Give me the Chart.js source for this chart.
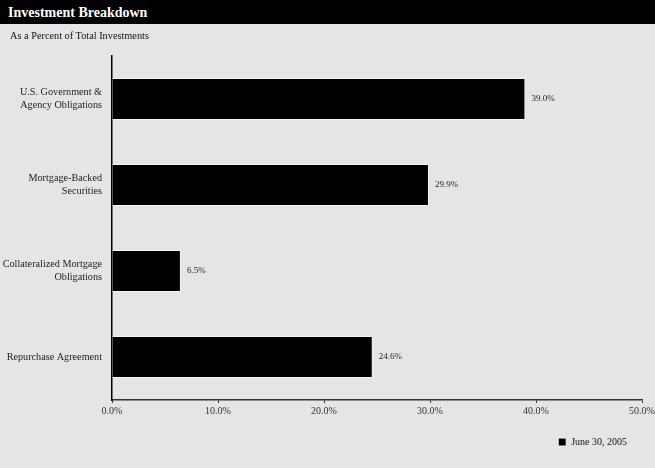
<!DOCTYPE html>
<html>
<head>
<meta charset="utf-8">
<script src="https://cdn.jsdelivr.net/npm/chart.js@4"></script>
<style>
  html, body { margin: 0; padding: 0; background: #e5e5e5; }
  #wrap { position: relative; width: 655px; height: 468px; overflow: hidden; }
  #bar { position: absolute; left: 0; top: 0; width: 655px; height: 24px; background: #000; color: #fff;
         font: bold 14px "Liberation Serif", "Times New Roman", serif; line-height: 26px; padding-left: 8px; box-sizing: border-box; }
  #sub { position: absolute; left: 10px; top: 30px; font: 10.3px "Liberation Serif", serif; color: #111; }
  canvas { position: absolute; left: 0; top: 0; }
</style>
</head>
<body>
<div id="wrap">
  <canvas id="chart1" width="655" height="468"></canvas>
  <div id="bar">Investment Breakdown</div>
  <div id="sub">As a Percent of Total Investments</div>
</div>
<script>
var categories = [
    ['U.S. Government &', 'Agency Obligations'],
    ['Mortgage-Backed', 'Securities'],
    ['Collateralized Mortgage', 'Obligations'],
    'Repurchase Agreement'
];
var values = [39.0, 29.9, 6.5, 24.6];
var seriesName = 'June 30, 2005';
var tickValues = [0, 10, 20, 30, 40, 50];

var serif = '"Liberation Serif", "Times New Roman", serif';

// value labels at the end of each bar
var barLabels = {
    id: 'barLabels',
    afterDatasetsDraw: function(chart) {
        var c = chart.ctx;
        var meta = chart.getDatasetMeta(0);
        c.save();
        c.font = '9px ' + serif;
        c.fillStyle = '#222';
        c.textBaseline = 'middle';
        meta.data.forEach(function(bar, i) {
            c.fillText(values[i].toFixed(1) + '%', bar.x + 6, bar.y);
        });
        c.restore();
    }
};

var ctx = document.getElementById('chart1').getContext('2d');
var myChart = new Chart(ctx, {
    type: 'bar',
    data: {
        labels: categories,
        datasets: [{
            label: seriesName,
            data: values,
            backgroundColor: '#000',
            borderColor: '#f4f4f4',
            borderWidth: 1,
            barPercentage: 0.98,
            categoryPercentage: 0.5
        }]
    },
    options: {
        indexAxis: 'y',
        responsive: false,
        animation: false,
        layout: { padding: { top: 56, right: 13, bottom: 11, left: 0 } },
        plugins: {
            legend: {
                position: 'bottom',
                align: 'end',
                labels: {
                    boxWidth: 8,
                    boxHeight: 8,
                    padding: 15,
                    color: '#111',
                    font: { family: serif, size: 10 }
                }
            },
            tooltip: { enabled: false }
        },
        scales: {
            x: {
                min: 0,
                max: 50,
                afterBuildTicks: function(scale) {
                    scale.ticks = tickValues.map(function(v) { return { value: v }; });
                },
                afterFit: function(scale) {
                    scale.height = 22;
                    scale.paddingRight = 0;
                },
                grid: { drawOnChartArea: false, tickLength: 3, color: '#333' },
                border: { color: '#333', width: 1.5 },
                ticks: {
                    color: '#333',
                    padding: 2,
                    font: { family: serif, size: 10 },
                    callback: function(v) { return v.toFixed(1) + '%'; }
                }
            },
            y: {
                afterFit: function(scale) { scale.width = 112; },
                grid: { display: false, drawTicks: false },
                border: { color: '#000', width: 1.5 },
                ticks: {
                    color: '#222',
                    padding: 10,
                    font: { family: serif, size: 10.2, lineHeight: 1.28 }
                }
            }
        }
    },
    plugins: [barLabels]
});
</script>
</body>
</html>
